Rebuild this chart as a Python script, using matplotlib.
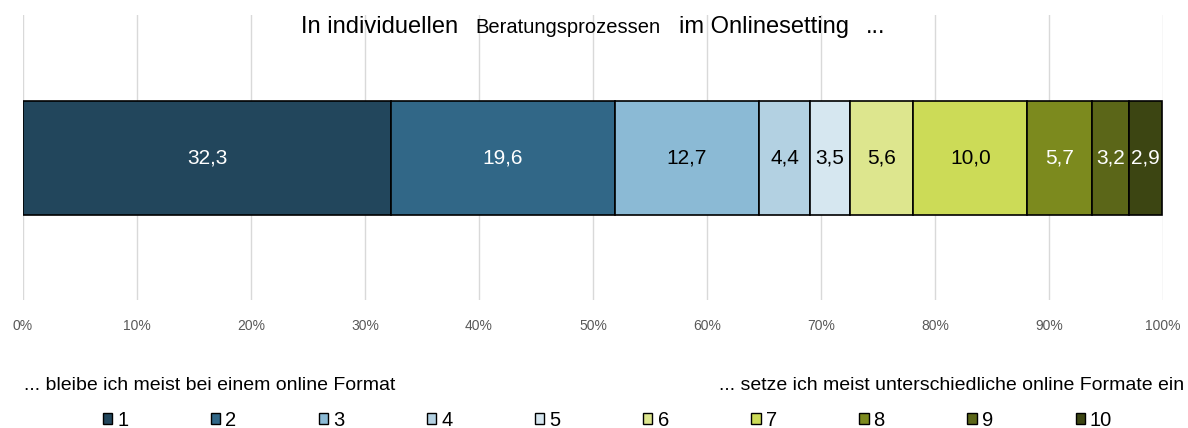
import matplotlib
matplotlib.use('Agg')
import matplotlib.pyplot as plt
from matplotlib.patches import Patch

plt.rcParams['font.family'] = ['Liberation Sans', 'DejaVu Sans']

categories = ['1', '2', '3', '4', '5', '6', '7', '8', '9', '10']
values = [32.3, 19.6, 12.7, 4.4, 3.5, 5.6, 10.0, 5.7, 3.2, 2.9]
colors = ['#22465C', '#316787', '#8BBAD5', '#B3D1E2', '#D6E7F0',
          '#DDE68E', '#CCDB57', '#7C8A1E', '#5B6618', '#3C4512']
text_colors = ['white', 'white', 'black', 'black', 'black',
               'black', 'black', 'white', 'white', 'white']

W, H = 1188, 428
fig = plt.figure(figsize=(W / 100, H / 100), dpi=100)
ax = fig.add_axes([23 / W, 1 - 300 / H, 1140 / W, 285 / H])

left = 0.0
for cat, v, c, tc in zip(categories, values, colors, text_colors):
    ax.barh(0, v, left=left, height=1.0, color=c, edgecolor='black', linewidth=1.2, zorder=3)
    ax.text(left + v / 2, 0, f'{v:.1f}'.replace('.', ','), ha='center', va='center',
            fontsize=15, color=tc, zorder=4)
    left += v

ax.set_xlim(0, 100)
ax.set_ylim(-1.25, 1.25)
ax.set_xticks(range(0, 101, 10))
ax.set_xticklabels([f'{t}%' for t in range(0, 101, 10)], fontsize=10, color='#595959')
ax.tick_params(axis='x', length=0, pad=14)
ax.set_yticks([])
ax.grid(axis='x', color='#D9D9D9', linewidth=1, zorder=0)
for s in ax.spines.values():
    s.set_visible(False)

# title: mixed font sizes, as in the original
yb = 1 - 33 / H
fig.text(301 / W, yb, 'In individuellen', fontsize=17, ha='left', va='baseline')
fig.text(475 / W, yb, 'Beratungsprozessen', fontsize=14.5, ha='left', va='baseline')
fig.text(679 / W, yb, 'im Onlinesetting', fontsize=17, ha='left', va='baseline')
fig.text(866 / W, yb, '...', fontsize=17, ha='left', va='baseline')

fig.text(24 / W, 1 - 386 / H, '... bleibe ich meist bei einem online Format',
         fontsize=14, ha='left', va='center')
fig.text(1184 / W, 1 - 386 / H, '... setze ich meist unterschiedliche online Formate ein',
         fontsize=14, ha='right', va='center')

handles = [Patch(facecolor=c, edgecolor='black', linewidth=1.0, label=cat)
           for cat, c in zip(categories, colors)]
fig.legend(handles=handles, ncol=10, loc='center left', bbox_to_anchor=(103 / W, 1 - 420 / H),
           frameon=False, fontsize=14.5, handlelength=0.46, handleheight=0.46,
           handletextpad=0.25, columnspacing=4.1, borderpad=0, borderaxespad=0)

plt.savefig('out.png', dpi=100, facecolor='white')
